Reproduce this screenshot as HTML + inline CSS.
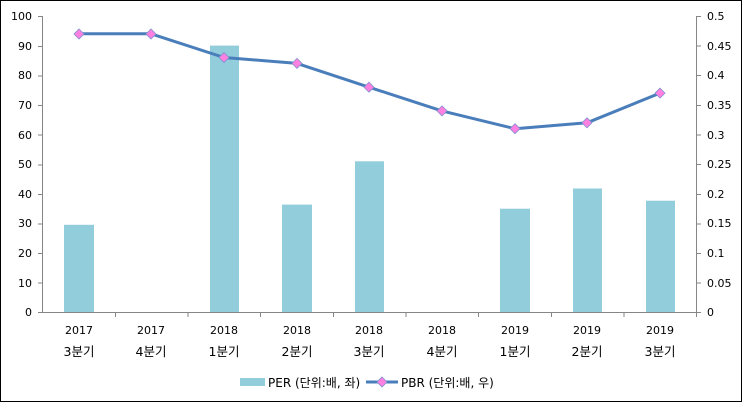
<!DOCTYPE html>
<html><head><meta charset="utf-8"><style>body{margin:0;background:#fff}svg{display:block}</style></head><body>
<svg width="743" height="403" viewBox="0 0 743 403" xmlns="http://www.w3.org/2000/svg" font-family="'DejaVu Sans','Noto Sans CJK KR',sans-serif" font-size="11" fill="#000">
<rect x="0.5" y="0.5" width="741" height="401" fill="#fff" stroke="#000"/>
<g fill="#92cddc">
<rect x="64" y="224.8" width="30" height="87.7"/>
<rect x="210" y="45.6" width="29" height="266.9"/>
<rect x="282" y="204.6" width="30" height="107.9"/>
<rect x="355" y="161.3" width="29" height="151.2"/>
<rect x="500" y="208.7" width="30" height="103.8"/>
<rect x="573" y="188.5" width="29" height="124"/>
<rect x="646" y="200.7" width="29" height="111.8"/>
</g>
<g stroke="#868686" fill="none">
<line x1="42.5" y1="16" x2="42.5" y2="313"/>
<line x1="696.5" y1="16" x2="696.5" y2="313"/>
<line x1="42.5" y1="312.5" x2="696.5" y2="312.5"/>
<path d="M38 16.5h5M38 46.5h5M38 76h5M38 105.5h5M38 135h5M38 165h5M38 194.5h5M38 224h5M38 253.5h5M38 283h5M38 312.5h5"/>
<path d="M696 16.5h5M696 46h5M696 75.5h5M696 105.5h5M696 135h5M696 164.5h5M696 194.5h5M696 224h5M696 253.5h5M696 283h5M696 312.5h5"/>
<path d="M115.5 312v5M188 312v5M260.5 312v5M333.5 312v5M406 312v5M478.5 312v5M551.5 312v5M624 312v5M696.5 312v5"/>
</g>
<g text-anchor="end" font-size="11">
<text x="32" y="20">100</text><text x="32" y="50">90</text><text x="32" y="79">80</text><text x="32" y="109">70</text><text x="32" y="139">60</text><text x="32" y="168">50</text><text x="32" y="198">40</text><text x="32" y="227">30</text><text x="32" y="257">20</text><text x="32" y="287">10</text><text x="32" y="316">0</text>
</g>
<g font-size="11">
<text x="707" y="20">0.5</text><text x="707" y="50">0.45</text><text x="707" y="79">0.4</text><text x="707" y="109">0.35</text><text x="707" y="139">0.3</text><text x="707" y="168">0.25</text><text x="707" y="198">0.2</text><text x="707" y="227">0.15</text><text x="707" y="257">0.1</text><text x="707" y="287">0.05</text><text x="707" y="316">0</text>
</g>
<g text-anchor="middle" font-size="11">
<text x="79" y="334">2017</text><text x="151" y="334">2017</text><text x="224" y="334">2018</text><text x="297" y="334">2018</text><text x="369" y="334">2018</text><text x="442" y="334">2018</text><text x="515" y="334">2019</text><text x="587" y="334">2019</text><text x="660" y="334">2019</text>
</g>
<g text-anchor="middle" font-size="12.5">
<text x="79" y="356">3분기</text><text x="151" y="356">4분기</text><text x="224" y="356">1분기</text><text x="297" y="356">2분기</text><text x="369" y="356">3분기</text><text x="442" y="356">4분기</text><text x="515" y="356">1분기</text><text x="587" y="356">2분기</text><text x="660" y="356">3분기</text>
</g>
<polyline fill="none" stroke="#4a7ebb" stroke-width="3" stroke-linejoin="round" points="79,33.8 151,33.8 224,57.5 297,63.4 369,87.2 442,110.9 515,128.7 587,122.8 660,93.1"/>
<g fill="#ff80e0" stroke="#7f8fd0" stroke-width="0.8">
<path d="M79 29l5 5-5 5-5-5z"/><path d="M151 29l5 5-5 5-5-5z"/><path d="M224 52.5l5 5-5 5-5-5z"/><path d="M297 58.4l5 5-5 5-5-5z"/><path d="M369 82.2l5 5-5 5-5-5z"/><path d="M442 105.9l5 5-5 5-5-5z"/><path d="M515 123.7l5 5-5 5-5-5z"/><path d="M587 117.8l5 5-5 5-5-5z"/><path d="M660 88.1l5 5-5 5-5-5z"/>
</g>
<rect x="240" y="378" width="25" height="8" fill="#92cddc"/>
<text x="268" y="387" font-size="12">PER (단위:배, 좌)</text>
<line x1="366" y1="382" x2="398" y2="382" stroke="#4a7ebb" stroke-width="3"/>
<path d="M382 377l5 5-5 5-5-5z" fill="#ff80e0" stroke="#7f8fd0" stroke-width="0.8"/>
<text x="401" y="387" font-size="12">PBR (단위:배, 우)</text>
</svg>
</body></html>
